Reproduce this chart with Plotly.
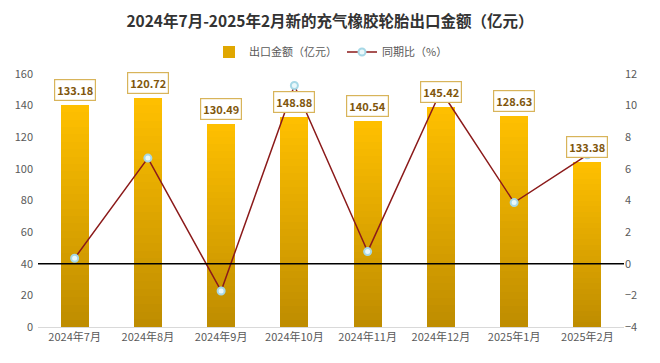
import plotly.graph_objects as go

categories = ["2024年7月", "2024年8月", "2024年9月", "2024年10月",
              "2024年11月", "2024年12月", "2025年1月", "2025年2月"]
export_amount = [140.5, 145.1, 128.5, 133.1, 130.0, 139.4, 133.5, 104.2]
yoy_pct = [0.35, 6.68, -1.72, 11.27, 0.77, 10.94, 3.87, 6.89]
label_texts = ["133.18", "120.72", "130.49", "148.88", "140.54", "145.42", "128.63", "133.38"]

K = 30
top_rgb = (255, 192, 0)
bot_rgb = (190, 140, 0)

fig = go.Figure()
for k in range(K):
    t = (k + 0.5) / K
    c = tuple(int(round(bot_rgb[i] + (top_rgb[i] - bot_rgb[i]) * t)) for i in range(3))
    fig.add_trace(go.Bar(
        x=categories, y=[v / K for v in export_amount],
        marker=dict(color="rgb(%d,%d,%d)" % c, line=dict(width=0)),
        width=0.38, name="出口金额（亿元）",
        showlegend=(k == K // 2), legendgroup="amt", hoverinfo="skip",
    ))

fig.add_trace(go.Scatter(
    x=categories, y=yoy_pct, yaxis="y2", mode="lines+markers",
    name="同期比（%）",
    line=dict(color="#8B1A1A", width=1.5),
    marker=dict(size=7, color="#EAF8FB", line=dict(color="#A6D8E6", width=2)),
))

for c, v, t in zip(categories, export_amount, label_texts):
    fig.add_annotation(
        x=c, y=v, text="<b>%s</b>" % t, showarrow=False,
        yanchor="bottom", yshift=4,
        font=dict(size=11, color="#80560C", family="Noto Sans CJK SC"),
        bgcolor="white", bordercolor="#D8B45A", borderwidth=1.2, borderpad=2,
    )

fig.add_shape(type="line", xref="paper", x0=0, x1=1, yref="y2", y0=0, y1=0,
              line=dict(color="black", width=1.3))

fig.update_layout(
    width=660, height=363,
    margin=dict(l=38, r=36, t=74, b=36),
    paper_bgcolor="white", plot_bgcolor="white",
    barmode="stack", bargap=0.62,
    font=dict(family="Noto Sans CJK SC", color="#595959", size=11),
    title=dict(text="<b>2024年7月-2025年2月新的充气橡胶轮胎出口金额（亿元）</b>",
               x=0.5, xanchor="center", y=1 - 22 / 363, yanchor="middle",
               font=dict(size=15.5, color="#333333", family="Noto Sans CJK SC")),
    legend=dict(orientation="h", x=0.5, xanchor="center", y=1.087, yanchor="middle",
                font=dict(size=11, color="#595959"), itemwidth=30, traceorder="normal"),
    xaxis=dict(showgrid=False, showline=True, linecolor="#D9D9D9", linewidth=1,
               ticks="", tickfont=dict(size=11, color="#595959")),
    yaxis=dict(range=[0, 160], dtick=20, showgrid=False, zeroline=False,
               ticklabelstandoff=4, tickfont=dict(size=11, color="#595959")),
    yaxis2=dict(range=[-4, 12], dtick=2, overlaying="y", side="right",
                showgrid=False, zeroline=False,
                tickfont=dict(size=11, color="#595959")),
)

fig.write_html("out.html", config={"displayModeBar": False},
               post_script="document.body.style.margin='0';document.body.style.overflow='hidden';")
